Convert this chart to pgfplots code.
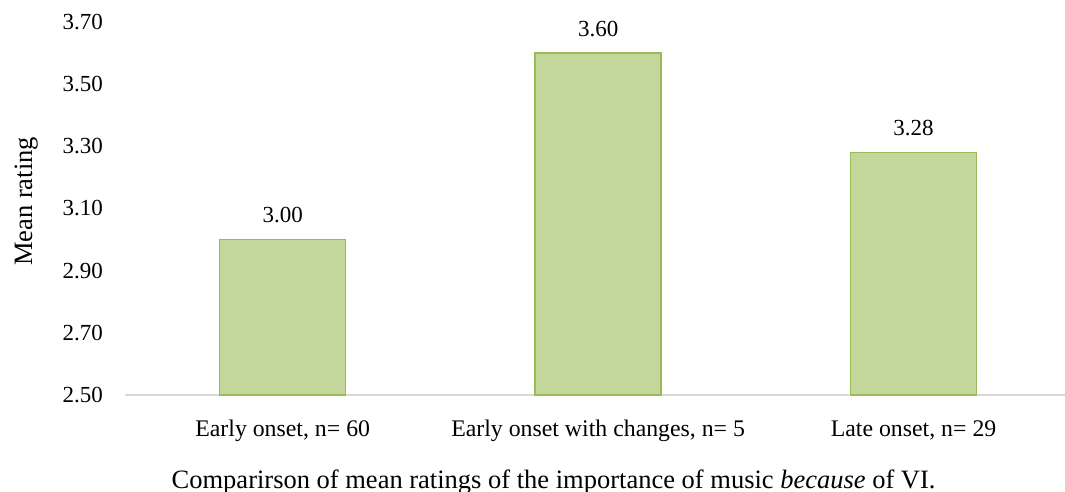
\documentclass[border=0pt]{standalone}
\usepackage{pgfplots}
\pgfplotsset{compat=1.18}
\usepackage{fontspec}
\setmainfont{Liberation Serif}
\definecolor{barfill}{HTML}{C4D79B}
\definecolor{barline}{HTML}{9BBB59}
\definecolor{axisgray}{HTML}{D9D9D9}
\begin{document}
\begin{tikzpicture}
\begin{axis}[
    name=ax,
    scale only axis,
    width=940pt, height=373pt,
    ybar, bar width=126pt,
    xmin=-0.5, xmax=2.48,
    ymin=2.5, ymax=3.7,
    ytick={2.5,2.7,2.9,3.1,3.3,3.5,3.7},
    /pgf/number format/assume math mode=true,
    xtick=data,
    xticklabels={Early onset{,} n= 60, Early onset with changes{,} n= 5, Late onset{,} n= 29},
    axis x line*=bottom, axis y line*=left,
    x axis line style={draw=axisgray, line width=1.5pt, -},
    y axis line style={draw=none},
    tick style={draw=none},
    font=\fontsize{23}{27}\selectfont,
    yticklabel style={/pgf/number format/fixed, /pgf/number format/fixed zerofill,
        /pgf/number format/precision=2, anchor=east, inner sep=0pt, xshift=-22pt},
    xticklabel style={font=\fontsize{23.8}{28}\selectfont, anchor=base, inner sep=0pt, yshift=-37pt},
    ylabel={Mean rating},
    ylabel style={font=\fontsize{26.5}{30}\selectfont, at={(rel axis cs:-0.0989,0.519)}, anchor=base, inner sep=0pt},
    xlabel={Comparirson of mean ratings of the importance of music \emph{because} of VI.},
    xlabel style={font=\fontsize{26.5}{30}\selectfont, at={(rel axis cs:0.456,0)}, anchor=base, inner sep=0pt, yshift=-93pt},
    nodes near coords,
    nodes near coords style={/pgf/number format/fixed, /pgf/number format/fixed zerofill,
        /pgf/number format/precision=2, anchor=south, inner sep=0pt, yshift=16pt, text=black},
    clip=false,
]
\addplot[fill=barfill, draw=barline, line width=1.5pt] coordinates {(0,3.00) (1,3.60) (2,3.28)};
\end{axis}
\pgfresetboundingbox
\path[use as bounding box] ([xshift=-125pt,yshift=22pt]ax.north west) rectangle ([yshift=-97pt]ax.south east);
\end{tikzpicture}
\end{document}
